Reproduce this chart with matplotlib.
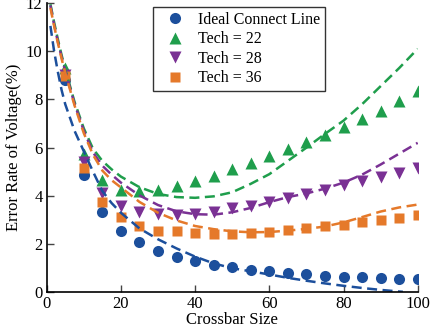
import numpy as np
import matplotlib
matplotlib.use('Agg')
import matplotlib.pyplot as plt

plt.rcParams['font.family'] = ['Liberation Serif', 'DejaVu Serif']
plt.rcParams['mathtext.fontset'] = 'stix'

# measured points
size = [5, 10, 15, 20, 25, 30, 35, 40, 45, 50, 55, 60, 65, 70, 75, 80, 85, 90, 95, 100]
ideal = [8.8, 4.86, 3.35, 2.53, 2.07, 1.71, 1.48, 1.31, 1.15, 1.04, 0.94, 0.87, 0.8, 0.76, 0.68, 0.65, 0.62, 0.6, 0.56, 0.56]
tech22 = [9.3, 5.74, 4.66, 4.25, 4.19, 4.24, 4.43, 4.6, 4.83, 5.1, 5.36, 5.65, 5.94, 6.23, 6.52, 6.86, 7.19, 7.54, 7.93, 8.37]
tech28 = [9.0, 5.39, 4.13, 3.56, 3.32, 3.24, 3.22, 3.26, 3.33, 3.48, 3.58, 3.74, 3.93, 4.06, 4.24, 4.45, 4.61, 4.77, 4.93, 5.14]
tech36 = [8.97, 5.16, 3.76, 3.11, 2.77, 2.56, 2.53, 2.46, 2.41, 2.41, 2.45, 2.51, 2.57, 2.66, 2.74, 2.81, 2.92, 3.02, 3.1, 3.2]

# fitted curves (dashed)
fit_x = [1, 2, 3, 4, 5, 7.5, 10, 12.5, 15, 17.5, 20, 25, 30, 35, 40, 45, 50, 55, 60, 65, 70, 75, 80, 85, 90, 95, 100]
fit_ideal_x = [1, 2, 3, 4, 5, 7.5, 10, 12.5, 15, 17.5, 20, 25, 30, 35, 40, 45, 50, 55, 60, 65, 70, 75, 80, 85, 90, 96]
fit_ideal = [11.05, 10.0, 9.15, 8.4, 7.8, 6.7, 5.85, 5.0, 4.2, 3.7, 3.3, 2.65, 2.2, 1.82, 1.48, 1.2, 1.0, 0.87, 0.74, 0.6, 0.48, 0.37, 0.27, 0.18, 0.1, 0.02]
fit22 = [11.95, 11.2, 10.5, 9.85, 9.25, 7.9, 6.8, 5.95, 5.45, 5.1, 4.8, 4.36, 4.08, 3.95, 3.92, 3.98, 4.15, 4.5, 4.9, 5.45, 6.0, 6.57, 7.12, 7.8, 8.55, 9.3, 10.1]
fit28 = [11.9, 11.1, 10.4, 9.77, 9.17, 7.82, 6.7, 5.8, 5.25, 4.88, 4.55, 4.02, 3.62, 3.36, 3.24, 3.22, 3.32, 3.5, 3.74, 3.95, 4.1, 4.3, 4.55, 4.88, 5.3, 5.75, 6.2]
fit36 = [11.8, 11.05, 10.35, 9.7, 9.1, 7.75, 6.6, 5.7, 5.05, 4.65, 4.35, 3.75, 3.3, 2.98, 2.75, 2.62, 2.53, 2.49, 2.5, 2.56, 2.63, 2.73, 2.9, 3.12, 3.35, 3.52, 3.64]

blue = '#1c4f9c'
green = '#1f9e4c'
purple = '#7a3194'
orange = '#e5792a'

fig = plt.figure(figsize=(4.3, 3.3), dpi=100)
ax = fig.add_axes([0.1086, 0.1142, 0.8628, 0.8767])

ax.plot(size, ideal, 'o', color=blue, ms=8, mec='none', label='Ideal Connect Line')
ax.plot(size, tech22, '^', color=green, ms=8.5, mec='none', label='Tech = 22')
ax.plot(size, tech28, 'v', color=purple, ms=8.5, mec='none', label='Tech = 28')
ax.plot(size, tech36, 's', color=orange, ms=7.5, mec='none', label='Tech = 36')

for xs, ys, c in [(fit_x, fit22, green), (fit_x, fit28, purple), (fit_x, fit36, orange), (fit_ideal_x, fit_ideal, blue)]:
    ln, = ax.plot(xs, ys, '--', color=c, lw=1.8)
    ln.set_dashes([4, 2.2])

ax.set_xlim(0, 100)
ax.set_ylim(0, 12)
ax.set_xticks(np.arange(0, 101, 20))
ax.set_yticks(np.arange(0, 13, 2))
ax.spines['top'].set_visible(False)
ax.spines['right'].set_visible(False)
ax.spines['left'].set_linewidth(1.2)
ax.spines['bottom'].set_linewidth(1.2)
ax.tick_params(direction='in', length=5, width=1, labelsize=12, pad=3, color='#444444')
ax.set_xlabel('Crossbar Size', fontsize=12, labelpad=0)
ax.set_ylabel('Error Rate of Voltage(%)', fontsize=12, labelpad=3)

leg = ax.legend(loc='upper left', bbox_to_anchor=(0.2865, 0.986), borderaxespad=0,
                fontsize=11.5, frameon=True, fancybox=False, edgecolor='black',
                handletextpad=0.3, borderpad=0.3, labelspacing=0.22,
                handlelength=2.2, numpoints=1)
leg.get_frame().set_linewidth(1.0)

fig.savefig('out.png', dpi=100)
